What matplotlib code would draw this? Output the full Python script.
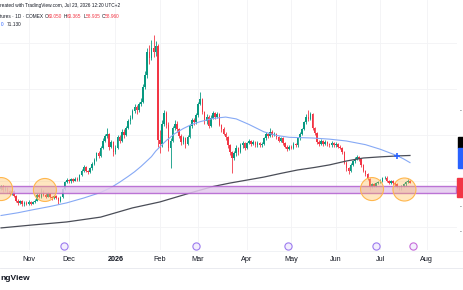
import matplotlib
matplotlib.use("Agg")
import matplotlib.pyplot as plt
from matplotlib.patches import Rectangle, Ellipse
from matplotlib.lines import Line2D

plt.rcParams['font.family'] = ['Liberation Sans', 'DejaVu Sans']

# daily candles, Oct 2025 .. Jul 22 2026 (bar index = trading day)
opens = [56.5, 57.5, 56.0, 57.0, 55.5, 54.5, 55.8, 53.5, 51.5, 50.5,
         51.2, 49.8, 50.6, 50.0, 51.0, 50.2, 50.8, 51.5, 54.0, 53.0,
         55.5, 54.0, 53.2, 54.6, 53.0, 52.4, 53.4, 52.8, 51.5, 53.0,
         56.5, 59.5, 60.5, 59.8, 60.8, 60.2, 61.0, 60.5, 62.5, 64.5,
         66.0, 64.5, 63.8, 65.5, 67.5, 69.0, 72.0, 71.0, 74.5, 77.5,
         79.5, 80.5, 75.0, 77.0, 72.5, 74.5, 79.0, 77.5, 81.5, 80.0,
         83.0, 86.0, 87.5, 90.5, 92.0, 91.0, 93.5, 94.5, 101.0, 106.0,
         116.0, 113.5, 118.0, 116.0, 118.5, 78.0, 76.0, 85.0, 89.5, 84.5,
         74.5, 77.5, 83.0, 85.0, 82.5, 79.5, 77.0, 78.5, 76.0, 79.0,
         84.0, 86.5, 85.5, 88.5, 93.5, 95.5, 90.0, 86.0, 88.0, 84.0,
         87.5, 89.5, 88.0, 89.0, 84.5, 82.5, 80.5, 79.0, 75.5, 72.5,
         70.0, 72.0, 74.5, 72.5, 75.5, 76.5, 74.5, 76.5, 77.5, 76.0,
         77.0, 75.5, 76.5, 75.5, 76.0, 78.5, 80.5, 79.5, 81.5, 80.0,
         80.5, 79.0, 77.5, 78.5, 76.5, 75.0, 74.0, 75.0, 74.5, 76.0,
         75.5, 78.5, 80.5, 82.5, 85.5, 88.0, 87.0, 89.0, 83.0, 81.0,
         77.0, 76.0, 77.5, 76.0, 77.0, 76.0, 75.5, 76.5, 75.5, 76.0,
         75.0, 74.5, 72.5, 68.0, 65.5, 64.5, 67.0, 68.5, 69.5, 70.5,
         69.5, 67.0, 64.5, 63.0, 61.0, 57.5, 58.5, 58.0, 59.0, 59.5,
         60.0, 61.2, 61.5, 60.0, 59.2, 60.0, 59.0, 58.5, 57.5, 56.8,
         57.8, 58.5, 59.5, 60.05]
highs = [58.3, 58.2, 57.8, 57.6, 56.2, 56.6, 56.3, 54.0, 52.2, 51.9,
         51.6, 51.3, 51.2, 51.6, 51.5, 51.4, 52.2, 54.6, 54.8, 57.0,
         56.0, 54.6, 55.2, 55.0, 53.4, 54.0, 53.9, 53.2, 53.4, 57.0,
         60.0, 61.2, 61.0, 61.4, 61.3, 61.6, 61.8, 63.0, 65.2, 67.0,
         66.6, 65.0, 66.0, 68.2, 69.8, 72.8, 73.0, 75.2, 78.5, 80.5,
         83.0, 81.0, 78.0, 77.5, 75.5, 80.0, 80.2, 82.5, 82.5, 84.0,
         87.0, 88.5, 91.5, 93.5, 93.0, 94.5, 96.0, 102.0, 108.0, 118.0,
         119.0, 121.5, 123.5, 121.0, 119.5, 82.0, 86.5, 91.0, 90.5, 85.5,
         78.5, 84.0, 86.5, 86.0, 83.0, 80.5, 79.5, 79.0, 80.0, 85.0,
         87.5, 87.5, 89.5, 94.5, 98.5, 96.0, 90.5, 89.0, 88.5, 88.5,
         90.5, 90.0, 90.0, 89.5, 85.0, 83.5, 81.5, 79.5, 76.0, 73.0,
         73.0, 75.5, 75.0, 76.5, 77.5, 77.0, 77.0, 78.3, 78.0, 77.8,
         77.5, 77.2, 77.0, 76.8, 79.2, 81.2, 81.0, 83.0, 82.0, 81.2,
         81.0, 79.5, 79.2, 79.0, 77.0, 75.6, 75.8, 75.6, 76.8, 76.6,
         79.2, 81.2, 83.2, 86.2, 89.0, 91.0, 90.0, 89.5, 83.6, 81.5,
         78.0, 78.2, 78.0, 77.8, 77.5, 76.6, 77.2, 77.0, 76.8, 76.5,
         75.6, 75.0, 73.0, 68.6, 66.2, 67.8, 69.2, 70.5, 71.5, 71.0,
         70.0, 67.5, 65.0, 63.5, 61.5, 59.2, 59.2, 59.6, 60.2, 60.8,
         61.8, 62.2, 62.0, 60.6, 60.6, 60.5, 59.6, 59.0, 58.0, 58.4,
         59.2, 60.2, 60.8, 60.365]
lows = [55.9, 55.3, 55.5, 54.9, 53.8, 54.0, 52.9, 50.8, 49.7, 50.0,
        49.0, 49.3, 49.4, 49.6, 49.6, 49.8, 50.4, 51.2, 52.5, 52.6,
        53.4, 52.6, 52.9, 52.4, 51.8, 52.0, 52.2, 50.0, 51.0, 52.7,
        56.2, 59.0, 59.0, 59.3, 59.6, 59.8, 59.9, 60.2, 62.0, 64.0,
        63.8, 63.0, 63.3, 65.0, 67.0, 68.6, 70.0, 70.5, 74.0, 76.8,
        78.5, 73.5, 74.2, 71.0, 71.8, 74.0, 76.5, 77.0, 78.8, 79.5,
        82.5, 85.0, 87.0, 89.5, 89.0, 90.0, 92.5, 94.0, 100.0, 105.0,
        111.0, 112.5, 114.0, 114.5, 75.0, 72.0, 75.0, 84.0, 83.0, 73.0,
        65.5, 77.0, 82.0, 81.5, 78.5, 75.5, 76.0, 74.5, 75.5, 78.5,
        83.0, 84.5, 85.0, 88.0, 93.0, 89.0, 85.0, 85.0, 83.0, 83.5,
        87.0, 87.0, 87.5, 84.0, 81.5, 80.0, 78.0, 74.5, 71.5, 63.5,
        69.0, 71.0, 71.5, 72.0, 74.5, 73.5, 73.8, 76.0, 75.2, 75.5,
        74.8, 75.0, 74.8, 75.0, 75.5, 78.0, 78.8, 79.0, 79.2, 79.4,
        78.4, 76.8, 77.0, 75.8, 74.2, 73.2, 73.5, 73.8, 74.0, 74.8,
        75.0, 78.0, 80.0, 82.0, 85.0, 86.2, 86.5, 82.2, 80.2, 76.2,
        75.2, 75.5, 75.3, 75.5, 75.3, 74.8, 75.0, 74.8, 75.0, 74.3,
        73.8, 71.8, 67.2, 64.5, 63.0, 64.0, 66.5, 68.0, 69.0, 68.8,
        66.3, 63.8, 62.3, 60.3, 56.2, 56.8, 57.3, 57.5, 58.5, 59.0,
        59.6, 60.8, 59.4, 58.6, 58.8, 58.4, 57.9, 56.9, 56.0, 56.3,
        57.3, 58.0, 59.2, 58.935]
closes = [57.5, 56.0, 57.0, 55.5, 54.5, 55.8, 53.5, 51.5, 50.5, 51.2,
          49.8, 50.6, 50.0, 51.0, 50.2, 50.8, 51.5, 54.0, 53.0, 55.5,
          54.0, 53.2, 54.6, 53.0, 52.4, 53.4, 52.8, 51.5, 53.0, 56.5,
          59.5, 60.5, 59.8, 60.8, 60.2, 61.0, 60.5, 62.5, 64.5, 66.0,
          64.5, 63.8, 65.5, 67.5, 69.0, 72.0, 71.0, 74.5, 77.5, 79.5,
          80.5, 75.0, 77.0, 72.5, 74.5, 79.0, 77.5, 81.5, 80.0, 83.0,
          86.0, 87.5, 90.5, 92.0, 91.0, 93.5, 94.5, 101.0, 106.0, 116.0,
          113.5, 118.0, 116.0, 118.5, 78.0, 76.0, 85.0, 89.5, 84.5, 74.5,
          77.5, 83.0, 85.0, 82.5, 79.5, 77.0, 78.5, 76.0, 79.0, 84.0,
          86.5, 85.5, 88.5, 93.5, 95.5, 90.0, 86.0, 88.0, 84.0, 87.5,
          89.5, 88.0, 89.0, 84.5, 82.5, 80.5, 79.0, 75.5, 72.5, 70.0,
          72.0, 74.5, 72.5, 75.5, 76.5, 74.5, 76.5, 77.5, 76.0, 77.0,
          75.5, 76.5, 75.5, 76.0, 78.5, 80.5, 79.5, 81.5, 80.0, 80.5,
          79.0, 77.5, 78.5, 76.5, 75.0, 74.0, 75.0, 74.5, 76.0, 75.5,
          78.5, 80.5, 82.5, 85.5, 88.0, 87.0, 89.0, 83.0, 81.0, 77.0,
          76.0, 77.5, 76.0, 77.0, 76.0, 75.5, 76.5, 75.5, 76.0, 75.0,
          74.5, 72.5, 68.0, 65.5, 64.5, 67.0, 68.5, 69.5, 70.5, 69.5,
          67.0, 64.5, 63.0, 61.0, 57.5, 58.5, 58.0, 59.0, 59.5, 60.0,
          61.2, 61.5, 60.0, 59.2, 60.0, 59.0, 58.5, 57.5, 56.8, 57.8,
          58.5, 59.5, 60.1, 58.96]

# moving averages
ma50_x = [0, 8, 15, 23, 31, 39, 47, 52, 56, 60, 63, 66, 68, 71, 73, 76, 78,
          82, 86, 90, 94, 100, 106, 111, 117, 124, 130, 136, 147, 155, 163,
          172, 179, 183, 187, 190, 193]
ma50 = [45.0, 46.2, 47.5, 48.9, 50.5, 52.6, 55.0, 57.2, 59.5, 62.0, 64.0,
        66.3, 68.0, 70.6, 73.0, 75.8, 77.6, 80.6, 82.8, 84.6, 85.8, 87.2,
        87.8, 87.0, 84.6, 81.4, 79.8, 79.0, 78.7, 78.2, 77.4, 75.8, 73.8,
        72.4, 71.0, 69.6, 68.0]
ma200_x = [0, 15, 31, 47, 62, 75, 90, 100, 108, 116, 124, 132, 140, 148,
           155, 163, 171, 179, 187, 193]
ma200 = [39.6, 40.9, 42.2, 44.3, 48.3, 50.9, 55.0, 57.6, 59.1, 60.4, 61.7,
         63.3, 64.8, 65.9, 67.0, 68.7, 70.0, 70.5, 70.9, 71.1]

zone_lo, zone_hi = 54.8, 57.8
circle_x = [0, 20.7, 175.1, 190.4]
circle_y = [56.5, 56.1, 56.5, 56.3]

month_pos = [13, 32, 54, 75, 93, 116, 137, 158, 179, 201]
month_lab = ['Nov', 'Dec', '2026', 'Feb', 'Mar', 'Apr', 'May', 'Jun', 'Jul', 'Aug']
event_pos = [29.7, 92, 135.4, 177, 194.4]

W, H = 464, 290
GREEN, RED = '#089981', '#F23645'

fig = plt.figure(figsize=(W / 100, H / 100), dpi=100)
ax = fig.add_axes([0, 40 / H, 457 / W, 250 / H])
ax.set_xlim(-0.5, 215.2)
ax.set_ylim(30.0, 138.7)

for p in month_pos:
    ax.axvline(p, color='#F2F3F5', lw=0.6, zorder=0)
for g in [40, 60, 80, 100, 120]:
    ax.axhline(g, color='#F2F3F5', lw=0.6, zorder=0)

for i in range(len(closes)):
    o, h, l, c = opens[i], highs[i], lows[i], closes[i]
    col = GREEN if c >= o else RED
    ax.vlines(i, l, h, color=col, lw=0.6, zorder=2)
    ax.bar(i, max(abs(c - o), 0.3), bottom=min(o, c), width=0.72,
           color=col, lw=0, zorder=3)

ax.plot(ma200_x, ma200, color='#4A4D57', lw=0.9, zorder=4)
ax.plot(ma50_x, ma50, color='#86A9F5', lw=0.8, zorder=4)
ax.plot([187], [71.0], marker='+', ms=4, mew=1.2, color='#2962FF', zorder=5)

ax.add_patch(Rectangle((-5, zone_lo), 219.7, zone_hi - zone_lo,
                       facecolor='#E3C9EE', edgecolor='#B25FCF', lw=1.0,
                       alpha=0.85, zorder=5))
for cx, cy in zip(circle_x, circle_y):
    ax.add_patch(Ellipse((cx, cy), 10.85, 10.0, facecolor=(1.0, 0.72, 0.3, 0.35),
                         edgecolor='#FFB74D', lw=0.8, zorder=6))

trans = ax.get_xaxis_transform()
for k, e in enumerate(event_pos):
    ec = '#C76BD9' if k == len(event_pos) - 1 else '#9C7BEF'
    ax.plot([e], [0.016], transform=trans, marker='o', ms=5.2, mfc='#F3EEFD',
            mec=ec, mew=0.8, clip_on=False, zorder=7)

ax.set_xticks(month_pos)
ax.set_xticklabels(month_lab, fontsize=5.2, color='#131722')
for t in ax.get_xticklabels():
    if t.get_text() == '2026':
        t.set_fontweight('bold')
ax.tick_params(axis='x', length=0, pad=4.5)
ax.set_yticks([])
for s in ax.spines.values():
    s.set_visible(False)

fig.add_artist(Line2D([0, 1], [1 - 250.5 / H] * 2, color='#EEF0F4', lw=0.6))
fig.add_artist(Line2D([0, 1], [1 - 268 / H] * 2, color='#E6E8EE', lw=0.6))

# price-scale labels sticking out on the right edge
fig.add_artist(Rectangle((458 / W, 1 - 148 / H), 6 / W, 11 / H, color='black',
                         transform=fig.transFigure))
fig.add_artist(Rectangle((458 / W, 1 - 168 / H), 6 / W, 20 / H, color='#2962FF',
                         transform=fig.transFigure))
fig.add_artist(Rectangle((457 / W, 1 - 197 / H), 7 / W, 19 / H, color=RED,
                         transform=fig.transFigure))
for yy in [111, 207, 232]:
    fig.text(460 / W, 1 - yy / H, '-', fontsize=4, color='#131722', va='center')

# header (left part is cut off in the screenshot)
fs = 3.4
fig.text(0.5 / W, 1 - 6 / H, 'reated with TradingView.com, Jul 23, 2026 12:20 UTC+2',
         va='center', fontsize=fs, color='#131722')
fig.text(0.5 / W, 1 - 16 / H, 'tures · 1D · COMEX', va='center',
         fontsize=fs, color='#131722')
for xx, lab, val in [(45, 'O', '60.050'), (64, 'H', '60.365'),
                     (83.5, 'L', '58.935'), (102, 'C', '58.960')]:
    fig.text(xx / W, 1 - 16 / H, lab, fontsize=fs, color='#131722', va='center')
    fig.text((xx + 2.6) / W, 1 - 16 / H, val, fontsize=fs, color=RED, va='center')
fig.text(0.5 / W, 1 - 24 / H, '0', va='center', fontsize=fs, color='#2962FF')
fig.text(7 / W, 1 - 24 / H, '71.130', va='center', fontsize=fs, color='#131722')

fig.text(0.5 / W, 1 - 279 / H, 'ngView', va='center',
         fontsize=6, fontweight='bold', color='#131722')

fig.savefig('out.png', dpi=100, facecolor='white')
